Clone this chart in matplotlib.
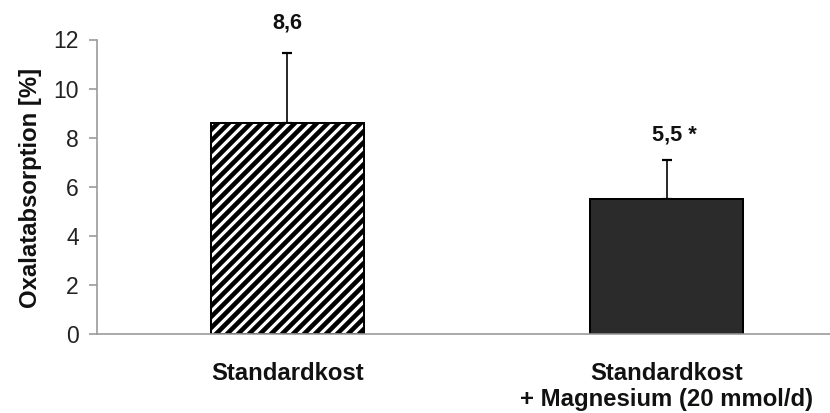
import matplotlib
matplotlib.use("Agg")
import matplotlib.pyplot as plt

categories = ["Standardkost", "Standardkost\n+ Magnesium (20 mmol/d)"]
values = [8.6, 5.5]
errors_upper = [2.85, 1.6]
value_labels = ["8,6", "5,5 *"]
y_ticks = [0, 2, 4, 6, 8, 10, 12]

DPI = 132
plt.rcParams['font.family'] = ['Liberation Sans', 'DejaVu Sans']
plt.rcParams['hatch.linewidth'] = 2.5
plt.rcParams['hatch.color'] = 'black'

fig = plt.figure(figsize=(830 / DPI, 413 / DPI), dpi=DPI)
ax = fig.add_axes([97 / 830, (413 - 334) / 413, 733 / 830, 294.5 / 413])

x = list(range(len(values)))
hatches = ['////', None]
faces = ['white', '#2b2b2b']
for i in x:
    ax.bar(i, values[i], width=0.403, color=faces[i], edgecolor='black',
           linewidth=1.1, hatch=hatches[i], zorder=2)
    ax.errorbar(i, values[i], yerr=[[0], [errors_upper[i]]], fmt='none',
                ecolor='black', elinewidth=0.9, capsize=2.8, capthick=1.2, zorder=1)

label_y = [12.67, 8.1]
label_dx = [0.0, 0.02]
for i in x:
    ax.text(i + label_dx[i], label_y[i], value_labels[i], ha='center', va='center',
            fontsize=11.8, fontweight='bold', color='#111111', clip_on=False)

ax.set_xlim(-0.502, 1.43)
ax.set_ylim(0, 12)
ax.set_yticks(y_ticks)
ax.set_yticklabels([str(t) for t in y_ticks])
ax.set_xticks(x)
ax.set_xticklabels(categories, fontsize=13, fontweight='bold', color='#111111',
                   linespacing=1.15)

for s in ['top', 'right']:
    ax.spines[s].set_visible(False)
for s in ['left', 'bottom']:
    ax.spines[s].set_color('#9a9a9a')
    ax.spines[s].set_linewidth(0.9)

ax.tick_params(axis='y', direction='out', length=4.4, width=0.9, color='#9a9a9a',
               labelsize=12.5, labelcolor='#222222', pad=5.5)
ax.tick_params(axis='x', length=0, pad=15.5)

ax.set_ylabel("Oxalatabsorption [%]", fontsize=13, fontweight='bold', color='#111111',
              va='center')
ax.yaxis.set_label_coords(-0.0914, 0.497)

fig.savefig("out.png", dpi=DPI)
